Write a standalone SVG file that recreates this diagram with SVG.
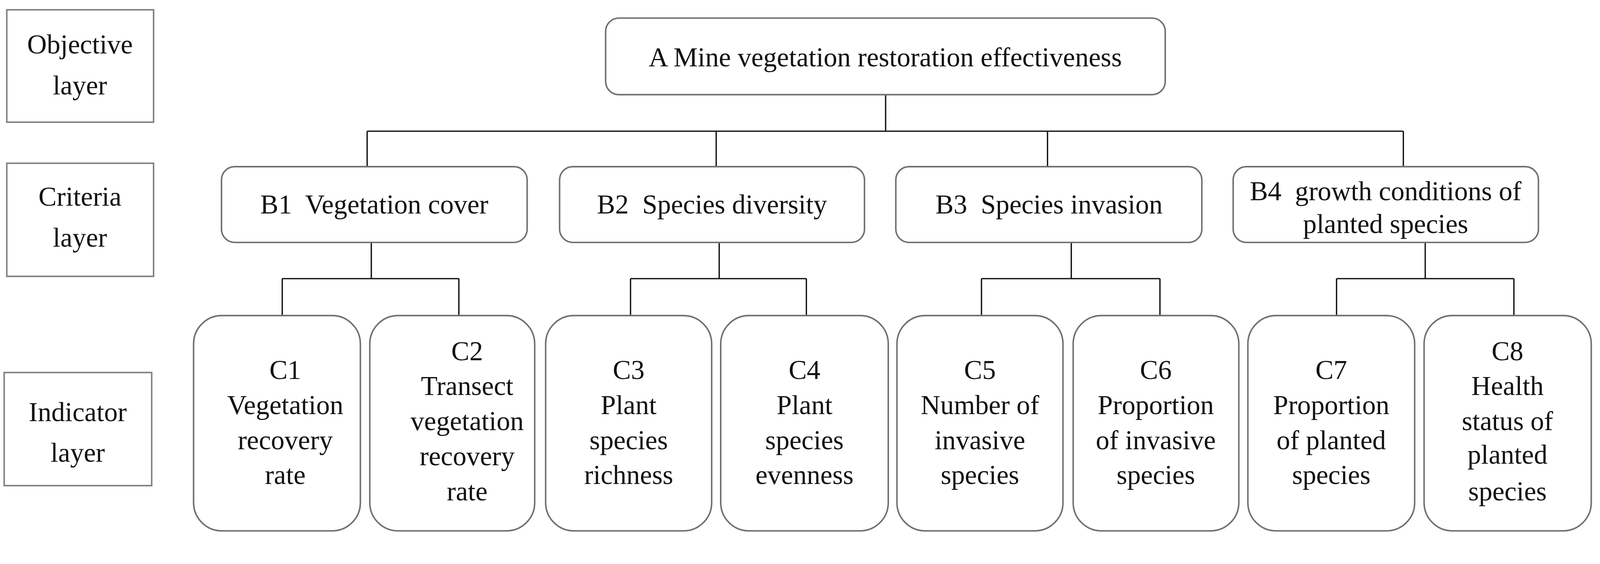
<svg xmlns="http://www.w3.org/2000/svg" width="4245" height="1445" viewBox="0 0 4245 1445">
<style>
.lb{fill:#fff;stroke:#808080;stroke-width:4}
.nd{fill:#fff;stroke:#707070;stroke-width:4}
text{font-family:"Liberation Serif","Times New Roman",serif;font-size:72px;fill:#111;text-anchor:middle}
.cn{fill:none;stroke:#111;stroke-width:3.5}
</style>
<rect width="4245" height="1445" fill="#fff"/>
<g transform="scale(0.966)">
<g id="layer-objective"><rect class="lb" x="18" y="26" width="389" height="298"/><text x="212" y="142">Objective</text><text x="212" y="250">layer</text></g>
<g id="layer-criteria"><rect class="lb" x="18" y="433" width="389" height="300"/><text x="212" y="546">Criteria</text><text x="212" y="654">layer</text></g>
<g id="layer-indicator"><rect class="lb" x="11" y="988" width="391" height="300"/><text x="206" y="1117">Indicator</text><text x="206" y="1225">layer</text></g>
<g id="connectors">
<path class="cn" d="M2347 251V348M973 348H3719M973 348V442M1898 348V442M2776 348V442M3719 348V442"/>
<path class="cn" d="M984 643V739M748 739H1216M748 739V837M1216 739V837"/>
<path class="cn" d="M1906 643V739M1671 739H2137M1671 739V837M2137 739V837"/>
<path class="cn" d="M2839 643V739M2601 739H3074M2601 739V837M3074 739V837"/>
<path class="cn" d="M3777 643V739M3542 739H4012M3542 739V837M4012 739V837"/>
</g>
<g id="A"><rect class="nd" x="1605" y="48" width="1483" height="203" rx="35"/><text x="2346" y="176">A Mine vegetation restoration effectiveness</text></g>
<g id="B1"><rect class="nd" x="587" y="442" width="810" height="201" rx="35"/><text x="992" y="566" xml:space="preserve">B1  Vegetation cover</text></g>
<g id="B2"><rect class="nd" x="1483" y="442" width="808" height="201" rx="35"/><text x="1887" y="566" xml:space="preserve">B2  Species diversity</text></g>
<g id="B3"><rect class="nd" x="2374" y="442" width="811" height="201" rx="35"/><text x="2780" y="566" xml:space="preserve">B3  Species invasion</text></g>
<g id="B4"><rect class="nd" x="3268" y="442" width="809" height="201" rx="35"/><text x="3672" y="531" xml:space="preserve">B4  growth conditions of</text><text x="3672" y="618">planted species</text></g>
<g id="C1"><rect class="nd" x="513" y="837" width="442" height="571" rx="75"/><text x="756" y="1005">C1</text><text x="756" y="1098">Vegetation</text><text x="756" y="1191">recovery</text><text x="756" y="1284">rate</text></g>
<g id="C2"><rect class="nd" x="980" y="837" width="437" height="571" rx="75"/><text x="1238" y="955">C2</text><text x="1238" y="1048">Transect</text><text x="1238" y="1141">vegetation</text><text x="1238" y="1234">recovery</text><text x="1238" y="1327">rate</text></g>
<g id="C3"><rect class="nd" x="1446" y="837" width="440" height="571" rx="75"/><text x="1666" y="1005">C3</text><text x="1666" y="1098">Plant</text><text x="1666" y="1191">species</text><text x="1666" y="1284">richness</text></g>
<g id="C4"><rect class="nd" x="1910" y="837" width="444" height="571" rx="75"/><text x="2132" y="1005">C4</text><text x="2132" y="1098">Plant</text><text x="2132" y="1191">species</text><text x="2132" y="1284">evenness</text></g>
<g id="C5"><rect class="nd" x="2377" y="837" width="440" height="571" rx="75"/><text x="2597" y="1005">C5</text><text x="2597" y="1098">Number of</text><text x="2597" y="1191">invasive</text><text x="2597" y="1284">species</text></g>
<g id="C6"><rect class="nd" x="2844" y="837" width="439" height="571" rx="75"/><text x="3063" y="1005">C6</text><text x="3063" y="1098">Proportion</text><text x="3063" y="1191">of invasive</text><text x="3063" y="1284">species</text></g>
<g id="C7"><rect class="nd" x="3307" y="837" width="442" height="571" rx="75"/><text x="3528" y="1005">C7</text><text x="3528" y="1098">Proportion</text><text x="3528" y="1191">of planted</text><text x="3528" y="1284">species</text></g>
<g id="C8"><rect class="nd" x="3774" y="837" width="443" height="571" rx="75"/><text x="3995" y="955">C8</text><text x="3995" y="1048">Health</text><text x="3995" y="1141">status of</text><text x="3995" y="1230">planted</text><text x="3995" y="1327">species</text></g>
</g>
</svg>
